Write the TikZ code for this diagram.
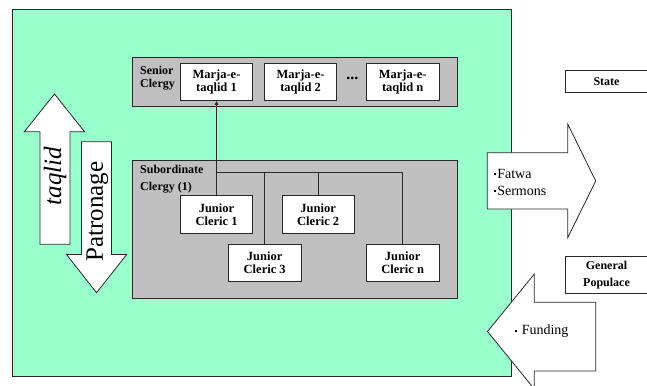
\documentclass[tikz,border=0pt]{standalone}
\usepackage{fontspec}
\setmainfont{Liberation Serif}
\usetikzlibrary{arrows.meta}
\definecolor{envgreen}{RGB}{153,255,204}
\definecolor{boxgray}{RGB}{192,192,192}
\definecolor{edge}{RGB}{40,40,40}
\newcommand{\sqb}{\raisebox{2.6pt}{\rule{2.6pt}{2.6pt}}}
\tikzset{
  envbox/.style={fill=envgreen, draw=edge, line width=0.9pt, inner sep=0pt, outer sep=0pt},
  grayframe/.style={fill=boxgray, draw=edge, line width=0.9pt, inner sep=0pt, outer sep=0pt},
  whitebox/.style={fill=white, draw=edge, line width=0.9pt, inner sep=0pt, outer sep=0pt,
    align=center, font=\bfseries\fontsize{12.5}{13.3}\selectfont,
    minimum width=72.5pt, minimum height=37.3pt},
  sidebox/.style={fill=white, draw=edge, line width=0.9pt, inner sep=0pt, outer sep=0pt,
    align=center, font=\bfseries\fontsize{12}{16.5}\selectfont, minimum width=83pt},
  lbl/.style={inner sep=0pt, align=left, anchor=north west},
  link/.style={draw=edge, line width=0.9pt},
  bigarrow/.style={fill=white, draw=edge, line width=0.8pt, line join=miter},
}
\begin{document}
\begin{tikzpicture}[x=1pt,y=-1pt]
\clip (0,0) rectangle (647,385);
\fill[white] (0,0) rectangle (647,385);

% environment
\node[envbox, anchor=north west, minimum width=499.2pt, minimum height=367pt] (env) at (12.4,9.7) {};

% senior clergy
\node[grayframe, anchor=north west, minimum width=325pt, minimum height=48.3pt] (senior) at (132,57.7) {};
\node[lbl, font=\bfseries\fontsize{12}{13.3}\selectfont] (seniorlbl) at (140,65.5) {Senior\\Clergy};
\node[whitebox] (m1) at (216.5,82.3) {Marja-e-\\taqlid 1};
\node[whitebox] (m2) at (300.6,82.3) {Marja-e-\\taqlid 2};
\node[inner sep=0pt, font=\bfseries\fontsize{16}{16}\selectfont] (dots) at (352.3,78.5) {...};
\node[whitebox] (mn) at (402.7,82.3) {Marja-e-\\taqlid n};

% subordinate clergy
\node[grayframe, anchor=north west, minimum width=325pt, minimum height=138pt] (sub) at (132,160) {};
\node[lbl, font=\bfseries\fontsize{12}{16.5}\selectfont] (sublbl) at (140,165) {Subordinate\\Clergy (1)};
\node[whitebox] (j1) at (216.5,214.5) {Junior\\Cleric 1};
\node[whitebox] (j2) at (318.2,214.5) {Junior\\Cleric 2};
\node[whitebox] (j3) at (264.7,262.8) {Junior\\Cleric 3};
\node[whitebox] (jn) at (402.7,262.8) {Junior\\Cleric n};

% connectors
\coordinate (branch) at (216.5,172);
\draw[link, -{Triangle[length=4pt,width=3.5pt]}] (j1.north) -- (m1.south);
\draw[link] (branch) -- (jn.north |- branch) -- (jn.north);
\draw[link] (j3.north |- branch) -- (j3.north);
\draw[link] (j2.north |- branch) -- (j2.north);

% taqlid / patronage arrows
\draw[bigarrow] (40,244.3) -- (40,131.7) -- (24.3,131.7) -- (54.5,94) -- (84.5,131.7) -- (70,131.7) -- (70,244.3) -- cycle;
\node[rotate=90, inner sep=0pt, font=\itshape\fontsize{25}{25}\selectfont] (taqlid) at (55,176) {taqlid};
\draw[bigarrow] (81.5,141.7) -- (111.5,141.7) -- (111.5,254.5) -- (126.7,254.5) -- (96.5,292.7) -- (66.5,254.5) -- (81.5,254.5) -- cycle;
\node[rotate=90, inner sep=0pt, font=\fontsize{25}{25}\selectfont] (patron) at (97.5,211.5) {Patronage};

% outer actors
\node[sidebox, minimum height=21.6pt] (state) at (606.5,81.5) {State};
\node[sidebox, minimum height=36.6pt] (people) at (606.5,275) {General\\Populace};

% fatwa arrow
\draw[bigarrow] (487.3,152.7) -- (567.7,152.7) -- (567.7,124) -- (595.7,181) -- (567.7,237.7) -- (567.7,209) -- (487.3,209) -- cycle;
\node[inner sep=0pt, anchor=west, align=left, font=\fontsize{14}{17}\selectfont] (fatwa) at (493.5,182) {\sqb\hspace{1pt}Fatwa\\\sqb\hspace{1pt}Sermons};

% funding arrow
\draw[bigarrow] (595.7,302.3) -- (534.3,302.3) -- (534.3,274) -- (487.5,331.5) -- (534.3,389) -- (534.3,371) -- (595.7,371) -- cycle;
\node[inner sep=0pt, anchor=west, font=\fontsize{14}{17}\selectfont] (funding) at (514.5,331.5) {\sqb\hspace{4.5pt}Funding};
\end{tikzpicture}
\end{document}
